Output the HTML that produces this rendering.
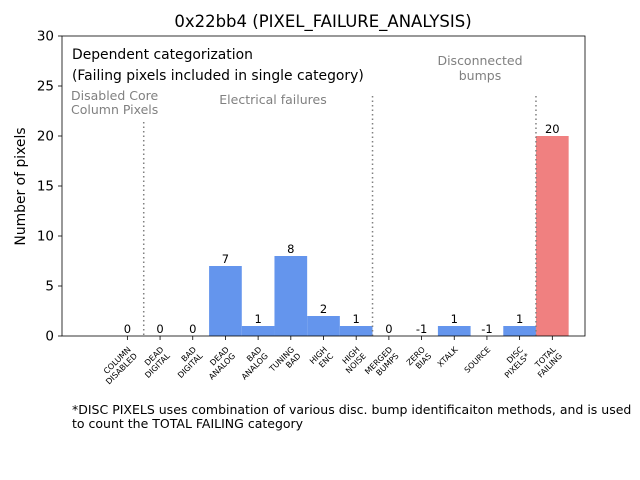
<!DOCTYPE html>
<html><head><meta charset="utf-8"><style>body{margin:0;background:#fff}svg{display:block;font-family:"DejaVu Sans","Liberation Sans",sans-serif}</style></head>
<body>
<svg id="chart" width="640" height="480">
<rect x="0" y="0" width="640" height="480" fill="#fff"/>
<text x="323" y="27" font-size="16.5" text-anchor="middle">0x22bb4 (PIXEL_FAILURE_ANALYSIS)</text>
<g id="plot"></g>
<text x="72" y="414" font-size="12.5">*DISC PIXELS uses combination of various disc. bump identificaiton methods, and is used</text>
<text x="72" y="428" font-size="12.5">to count the TOTAL FAILING category</text>
</svg>
<script>
const categories=[["COLUMN","DISABLED"],["DEAD","DIGITAL"],["BAD","DIGITAL"],["DEAD","ANALOG"],["BAD","ANALOG"],["TUNING","BAD"],["HIGH","ENC"],["HIGH","NOISE"],["MERGED","BUMPS"],["ZERO","BIAS"],["XTALK"],["SOURCE"],["DISC","PIXELS*"],["TOTAL","FAILING"]];
const values=[0,0,0,7,1,8,2,1,0,-1,1,-1,1,20];
const yTicks=[0,5,10,15,20,25,30];
const separators=[[0.5,21.4],[7.5,24],[12.5,24]];
const NS="http://www.w3.org/2000/svg";
const L=62,R=585,T=36,B=336;
const xs=v=>L+(v+2)/16*(R-L);
const ys=v=>B-v/30*(B-T);
const g=document.getElementById('plot');
function mk(t,a,p){const e=document.createElementNS(NS,t);for(const k in a)e.setAttribute(k,a[k]);(p||g).appendChild(e);return e;}
values.forEach((v,i)=>{
  const bv=Math.max(v,0);
  if(bv>0){
    const r=mk('rect',{x:xs(i-0.5),y:ys(bv),width:xs(i+0.5)-xs(i-0.5),height:ys(0)-ys(bv),fill:i===13?'#f08080':'#6495ed'});
    
    
  }
  const t=mk('text',{x:xs(i),y:ys(bv)-3,'font-size':11.5,'text-anchor':'middle'});
  t.textContent=v;
  
  
  mk('line',{x1:xs(i),x2:xs(i),y1:B,y2:B+4,stroke:'#000','stroke-width':0.8});
  const lab=mk('text',{transform:`translate(${xs(i)+4},${B+14}) rotate(-45)`,'font-size':8,'text-anchor':'end'});
  
  
  categories[i].forEach((s,j)=>{const ts=mk('tspan',{x:0,y:j*9},lab);ts.textContent=s;});
});
separators.forEach(s=>{
  const l=mk('line',{x1:xs(s[0]),x2:xs(s[0]),y1:ys(s[1]),y2:B,stroke:'#808080','stroke-width':1.5,'stroke-dasharray':'1.5,3'});
  
  
});
yTicks.forEach(v=>{
  mk('line',{x1:L-4,x2:L,y1:ys(v),y2:ys(v),stroke:'#000','stroke-width':0.8});
  const t=mk('text',{x:L-8,y:ys(v)+4.5,'font-size':13.5,'text-anchor':'end'});
  t.textContent=v;
  
  
});
const fr=mk('rect',{x:L,y:T,width:R-L,height:B-T,fill:'none',stroke:'#000','stroke-width':0.8});


const yl=mk('text',{transform:`translate(25,${(T+B)/2+0.5}) rotate(-90)`,'font-size':13.9,'text-anchor':'middle'});
yl.textContent='Number of pixels';


const notes=[[72,59,'Dependent categorization',13.9,'#000','start'],[72,80,'(Failing pixels included in single category)',13.9,'#000','start'],[71,100,'Disabled Core',12.5,'#808080','start'],[71,114,'Column Pixels',12.5,'#808080','start'],[273,104,'Electrical failures',12.5,'#808080','middle'],[480,65,'Disconnected',12.5,'#808080','middle'],[480,80,'bumps',12.5,'#808080','middle']];
notes.forEach(n=>{
  const t=mk('text',{x:n[0],y:n[1],'font-size':n[3],fill:n[4],'text-anchor':n[5]});
  t.textContent=n[2];
  
  
});
</script>
</body></html>
